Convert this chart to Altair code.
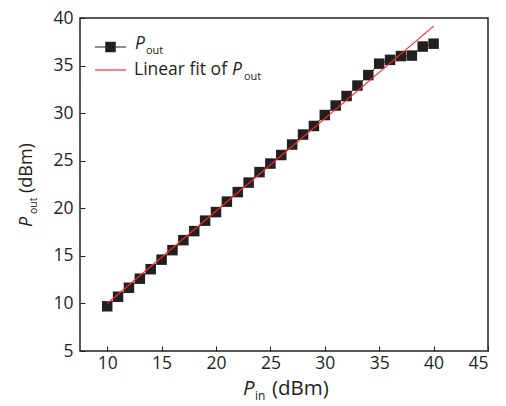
import altair as alt
import pandas as pd

# Measured output power versus input power
p_in = list(range(10, 41))
p_out = [9.7, 10.7, 11.65, 12.6, 13.6, 14.6, 15.6, 16.65, 17.6, 18.7,
         19.6, 20.7, 21.7, 22.7, 23.8, 24.7, 25.6, 26.7, 27.75, 28.65,
         29.8, 30.8, 31.8, 32.9, 34.0, 35.2, 35.6, 36.0, 36.05, 37.0, 37.3]

# Linear fit endpoints
fit_x = [10, 40]
fit_y = [10.0, 39.15]

x_ticks = [10, 15, 20, 25, 30, 35, 40, 45]
y_ticks = [5, 10, 15, 20, 25, 30, 35, 40]

INK = "#231f20"
FIT = "#ff2a2a"
FONT = "Open Sans"

df = pd.DataFrame({"p_in": p_in, "p_out": p_out})
fit_df = pd.DataFrame({"p_in": fit_x, "p_out": fit_y})

X = alt.X("p_in:Q",
          scale=alt.Scale(domain=[7.5, 45], nice=False, zero=False),
          axis=alt.Axis(values=x_ticks, title=None, offset=-5, tickSize=5,
                        labelPadding=3, domain=False, grid=False))
Y = alt.Y("p_out:Q",
          scale=alt.Scale(domain=[5, 40], nice=False, zero=False),
          axis=alt.Axis(values=y_ticks, title=None, offset=-5, tickSize=5,
                        labelPadding=7, domain=False, grid=False))

line = alt.Chart(df).mark_line(color=INK, strokeWidth=1).encode(x=X, y=Y)
points = alt.Chart(df).mark_square(size=110, color=INK, opacity=1).encode(x=X, y=Y)
fit = alt.Chart(fit_df).mark_line(color=FIT, strokeWidth=1.2).encode(x=X, y=Y)


def label(text, x, y, size=17.5, italic=False, angle=0, align="left"):
    kw = dict(text=text, font=FONT, fontSize=size, color=INK, align=align,
              baseline="alphabetic")
    if italic:
        kw["fontStyle"] = "italic"
    if angle:
        kw["angle"] = angle
    return alt.Chart(pd.DataFrame({"k": [0]})).mark_text(**kw).encode(
        x=alt.value(x), y=alt.value(y))


# Legend glyphs
dummy = pd.DataFrame({"k": [0]})
leg_line1 = alt.Chart(dummy).mark_rule(color=INK, strokeWidth=1).encode(
    x=alt.value(15), x2=alt.value(46), y=alt.value(29))
leg_sq = alt.Chart(dummy).mark_square(size=110, color=INK, opacity=1).encode(
    x=alt.value(30.5), y=alt.value(29))
leg_line2 = alt.Chart(dummy).mark_rule(color=FIT, strokeWidth=1.2).encode(
    x=alt.value(15), x2=alt.value(46), y=alt.value(52))

texts = [
    # legend labels
    label("P", 55, 31, italic=True),
    label("out", 66, 36, size=11),
    label("Linear fit of", 54, 57),
    label("P", 152, 57, italic=True),
    label("out", 164, 62, size=11),
    # x-axis title
    label("P", 163, 377, size=20.5, italic=True),
    label("in", 175, 382, size=12),
    label("(dBm)", 192, 377, size=20.5),
    # y-axis title
    label("P", -48, 209, size=18, italic=True, angle=270),
    label("out", -43, 196, size=10.5, angle=270),
    label("(dBm)", -48, 175, size=18, angle=270),
]

chart = alt.layer(line, points, fit, leg_line1, leg_sq, leg_line2, *texts).properties(
    width=408, height=333,
    padding={"left": 80, "top": 18, "right": 18, "bottom": 55},
    autosize=alt.AutoSizeParams(type="none"),
).configure_axis(
    labelFont=FONT, labelFontSize=17.5, labelColor=INK,
    tickColor=INK, tickWidth=1,
).configure_view(stroke=INK, strokeWidth=1.5)

chart.save("out.html", embed_options={"renderer": "svg", "actions": False})
